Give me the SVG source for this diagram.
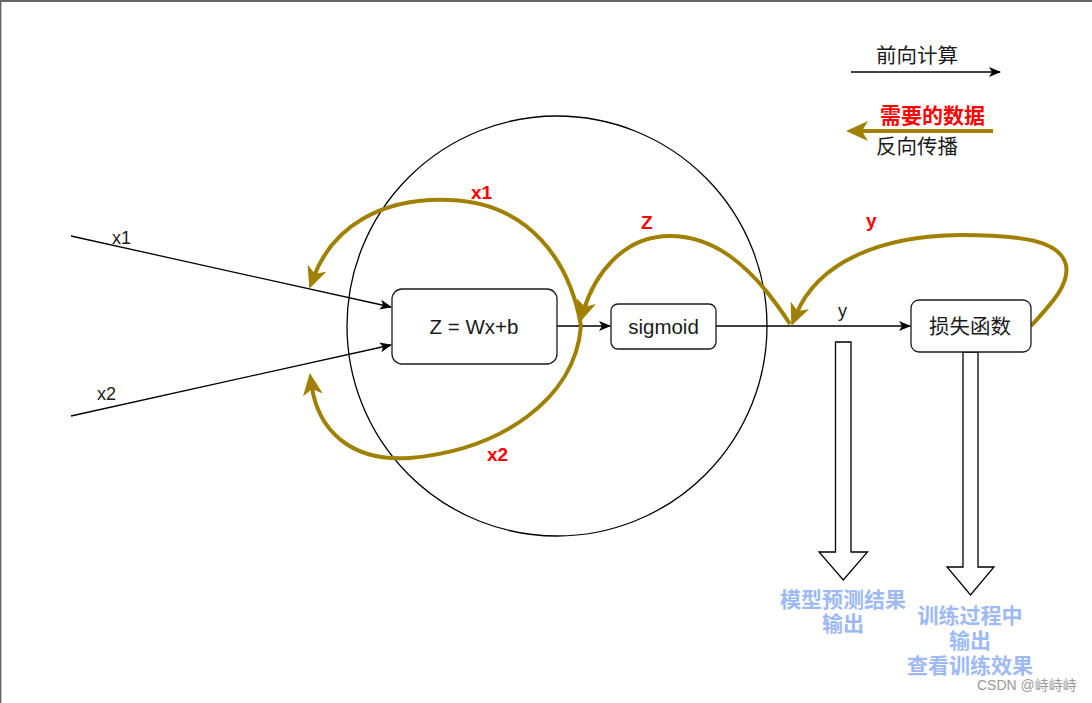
<svg xmlns="http://www.w3.org/2000/svg" width="1092" height="703" viewBox="0 0 1092 703">
<defs>
<style>
.t{font-family:"Liberation Sans","Noto Sans CJK SC",sans-serif;fill:#1a1a1a}
.c{font-family:"Liberation Sans","Noto Sans CJK SC",sans-serif}
.red{font-family:"Liberation Sans","Noto Sans CJK SC",sans-serif;fill:#ff0000;font-weight:bold;font-size:19px}
.blue{font-family:"Liberation Sans","Noto Sans CJK SC",sans-serif;fill:#9db9f6;font-weight:bold;font-size:21px;text-anchor:middle}
.box{fill:#ffffff;stroke:#1a1a1a;stroke-width:1.3}
.ln{fill:none;stroke:#000;stroke-width:1.3}
.ol{fill:none;stroke:#a08000;stroke-width:4}
</style>
<marker id="ab" markerUnits="userSpaceOnUse" viewBox="0 0 12 10" markerWidth="12" markerHeight="10" refX="11" refY="5" orient="auto">
<path d="M0,0 L12,5 L0,10 L3,5 z" fill="#000"/>
</marker>
<marker id="ao" markerUnits="userSpaceOnUse" viewBox="0 0 22 20" markerWidth="22" markerHeight="20" refX="10" refY="10" orient="auto">
<path d="M0,0 L22,10 L0,20 L6,10 z" fill="#a08000"/>
</marker>
</defs>
<rect x="0" y="0" width="1092" height="703" fill="#ffffff"/>
<line x1="0" y1="1" x2="1092" y2="1" stroke="#666" stroke-width="2"/>
<line x1="0.7" y1="0" x2="0.7" y2="703" stroke="#666" stroke-width="1.4"/>

<g id="neuron">
<circle cx="557" cy="326" r="210" fill="none" stroke="#000" stroke-width="1.3"/>
</g>

<g id="connectors">
<line class="ln" x1="71" y1="236" x2="391" y2="307" marker-end="url(#ab)"/>
<line class="ln" x1="71" y1="416" x2="391" y2="345" marker-end="url(#ab)"/>
<line class="ln" x1="557" y1="326" x2="610" y2="326" marker-end="url(#ab)"/>
<line class="ln" x1="716" y1="326" x2="910" y2="326" marker-end="url(#ab)"/>
<text class="t" x="112" y="244" font-size="18">x1</text>
<text class="t" x="97" y="400" font-size="18">x2</text>
<text class="t" x="838" y="317" font-size="18">y</text>

<path class="ol" d="M581,326 C570,262 530,203 450,200 C380,197 332,228 313.5,277.5" marker-end="url(#ao)"/>
<path class="ol" d="M581,326 C575,400 500,450 410,458 C350,462 318,430 311.5,385" marker-end="url(#ao)"/>
<path class="ol" d="M790,324 C750,262 712,236 670,236 C622,236 594,276 583.6,310.6" marker-end="url(#ao)"/>
<path class="ol" d="M1031,326 C1050,305 1070,285 1066,265 C1060,240 1020,235 960,235 C880,236 818,262 796,314.6" marker-end="url(#ao)"/>
<text class="red" x="471" y="199">x1</text>
<text class="red" x="487" y="461">x2</text>
<text class="red" x="641" y="229">Z</text>
<text class="red" x="866" y="227">y</text>

<polygon points="835.5,342 851,342 851,552 867.5,552 843.3,580 819,552 835.5,552" fill="#fff" stroke="#000" stroke-width="1.3"/>
<polygon points="963,352 978,352 978,567 994,567 970.5,595 947,567 963,567" fill="#fff" stroke="#000" stroke-width="1.3"/>
</g>

<g id="node-z">
<rect class="box" x="392" y="289" width="165" height="75" rx="10"/>
<text class="t" x="474" y="334" font-size="20.5" text-anchor="middle">Z = Wx+b</text>
</g>
<g id="node-sigmoid">
<rect class="box" x="611" y="304" width="105" height="45" rx="7"/>
<text class="t" x="663.5" y="334" font-size="20.5" text-anchor="middle">sigmoid</text>
</g>
<g id="node-loss">
<rect class="box" x="911" y="300" width="120" height="52" rx="8"/>
<text class="t" x="970" y="334" font-size="20.5" text-anchor="middle">损失函数</text>
</g>

<g id="legend">
<text class="t" x="876" y="63" font-size="20.5">前向计算</text>
<line class="ln" x1="851" y1="72" x2="1000" y2="72" marker-end="url(#ab)"/>
<line class="ol" x1="993" y1="131" x2="858" y2="131" marker-end="url(#ao)"/>
<text class="c" x="880" y="123" font-size="21" font-weight="bold" fill="#ff0000" stroke="#fff" stroke-width="3" paint-order="stroke">需要的数据</text>
<text class="t" x="876" y="154" font-size="20.5">反向传播</text>
</g>

<g id="outputs">
<text class="blue" x="843" y="607">模型预测结果</text>
<text class="blue" x="843" y="631">输出</text>
<text class="blue" x="970" y="623">训练过程中</text>
<text class="blue" x="970" y="648">输出</text>
<text class="blue" x="970" y="673">查看训练效果</text>
</g>
<text class="c" x="977" y="690" font-size="14" fill="#999">CSDN @峙峙峙</text>
</svg>
